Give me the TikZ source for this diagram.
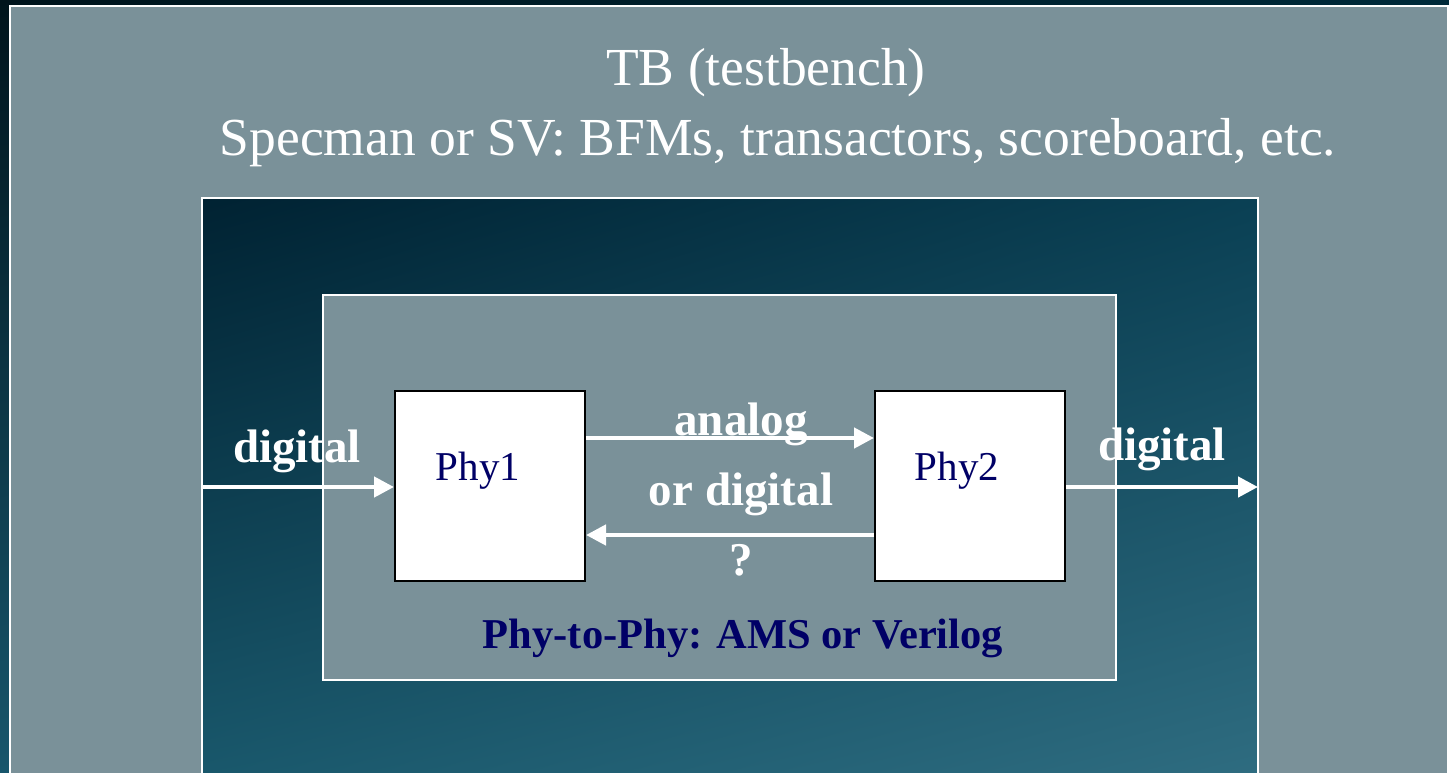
\documentclass[tikz,border=0pt]{standalone}
\usepackage{fontspec}
\setmainfont{Liberation Serif}
\usetikzlibrary{arrows.meta,shadings}
\definecolor{panel}{HTML}{7A9199}
\definecolor{navy}{HTML}{000066}
\definecolor{bgUL}{HTML}{00141C}
\definecolor{bgUR}{HTML}{002A3A}
\definecolor{bgLL}{HTML}{18566C}
\definecolor{bgLR}{HTML}{3A7B90}
\definecolor{mUL}{HTML}{002232}
\definecolor{mUR}{HTML}{0A4054}
\definecolor{mLL}{HTML}{1A5A6E}
\definecolor{mLR}{HTML}{306E82}
\tikzset{
  frame/.style={draw=white, line width=2pt},
  phybox/.style={draw=black, line width=2pt, fill=white, minimum width=190pt, minimum height=190pt, inner sep=0pt},
  wire/.style={draw=white, line width=4.5pt, -{Triangle[length=20pt,width=20pt]}},
  wlabel/.style={text=white, font=\bfseries\fontsize{47}{50}\selectfont, anchor=base, inner sep=0pt},
  title/.style={text=white, font=\fontsize{53.5}{58}\selectfont, anchor=base, inner sep=0pt},
  phylabel/.style={text=navy, font=\fontsize{41}{46}\selectfont, anchor=base, inner sep=0pt}
}
\begin{document}
\begin{tikzpicture}[x=1pt,y=-1pt]
\useasboundingbox (0,0) rectangle (1449,772);
% background
\shade[upper left=bgUL, upper right=bgUR, lower left=bgLL, lower right=bgLR] (0,0) rectangle (1449,772);
% outer testbench panel
\fill[panel] (10,6) rectangle (1448,800);
\draw[frame] (10,6) rectangle (1448,800);
% middle region showing background
\shade[upper left=mUL, upper right=mUR, lower left=mLL, lower right=mLR] (202,198) rectangle (1258,800);
\draw[frame] (202,198) rectangle (1258,800);
% inner phy-to-phy panel
\node[frame, fill=panel, minimum width=793pt, minimum height=385pt, inner sep=0pt, anchor=north west] (inner) at (322,294) {};
% titles
\node[title] (tb) at (766,85) {TB (testbench)};
\node[title] (spec) at (778,155) {Specman or SV: BFMs, transactors, scoreboard, etc.};
% phy boxes
\node[phybox, anchor=north west] (phy1) at (394,390) {};
\node[phybox, anchor=north west] (phy2) at (874,390) {};
\node[phylabel] (l1) at (478,480) {Phy1};
\node[phylabel] (l2) at (957,480) {Phy2};
% connector end points
\coordinate (inL) at (202,487);
\coordinate (outR) at (1258,487);
% arrows
\draw[wire] (inL) -- (phy1.west |- inL);
\draw[wire] (phy2.east |- outR) -- (outR);
\draw[wire] ([yshift=48pt]phy1.east) -- ([yshift=48pt]phy2.west);
\draw[wire] ([yshift=-49pt]phy2.west) -- ([yshift=-49pt]phy1.east);
% labels
\node[wlabel] (dl) at (297,462) {digital};
\node[wlabel] (dr) at (1162,460) {digital};
\node[wlabel] (an) at (741,435) {analog};
\node[wlabel] (od) at (741,505) {or digital};
\node[wlabel] (q) at (741,575) {?};
\node[text=navy, font=\bfseries\fontsize{42.5}{46}\selectfont, anchor=base, inner sep=0pt] (p2p) at (743,648) {Phy-to-Phy: AMS or Verilog};
\end{tikzpicture}
\end{document}
